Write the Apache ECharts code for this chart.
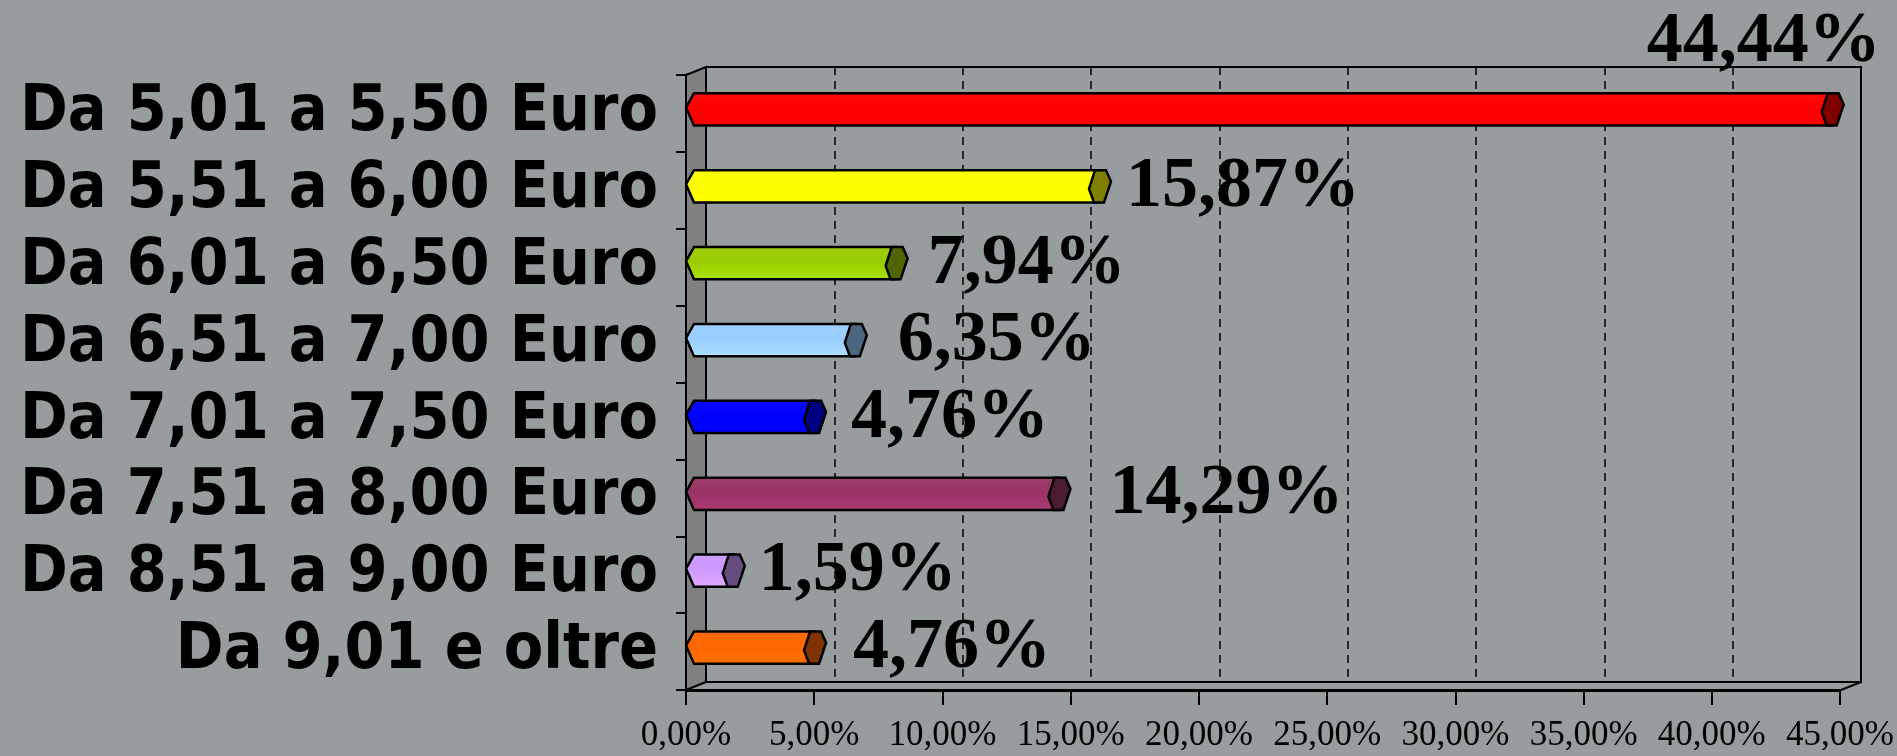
<!DOCTYPE html>
<html>
<head>
<meta charset="utf-8">
<script src="https://cdn.jsdelivr.net/npm/echarts@6/dist/echarts.min.js"></script>
<style>
  html, body { margin: 0; padding: 0; background: #979d9e; }
  #chart { width: 1897px; height: 756px; }
</style>
</head>
<body>
<div id="chart"></div>
<script>
var categories = [
  'Da 5,01 a 5,50 Euro',
  'Da 5,51 a 6,00 Euro',
  'Da 6,01 a 6,50 Euro',
  'Da 6,51 a 7,00 Euro',
  'Da 7,01 a 7,50 Euro',
  'Da 7,51 a 8,00 Euro',
  'Da 8,51 a 9,00 Euro',
  'Da 9,01 e oltre'
]
var percentages = [44.44, 15.87, 7.94, 6.35, 4.76, 14.29, 1.59, 4.76]
var tickLabels = ['0,00%', '5,00%', '10,00%', '15,00%', '20,00%', '25,00%', '30,00%', '35,00%', '40,00%', '45,00%']

// colori del corpo e del tappo di ogni barra
var barColors = ['#ff0000', '#ffff00', '#99cc00', '#99ccff', '#0000ff', '#993366', '#cc99ff', '#ff6600']
var capColors = ['#800000', '#808000', '#4d6600', '#4d6680', '#000080', '#4d1a33', '#664d80', '#803300']
// piccoli spostamenti orizzontali delle etichette (px)
var labelShift = [0, -5, 0, 11, 5, 19, -6, 7]

// piano frontale e parete di fondo (effetto 3D)
var front = { l: 686, t: 75, r: 1841, b: 690 }
var back = { l: 706, t: 67, r: 1861, b: 682 }

var myChart = echarts.init(document.getElementById('chart'))

function pct (v) {
  return v.toFixed(2).replace('.', ',') + '%'
}

function renderCylinder (params, api) {
  var idx = api.value(0)
  var v = api.value(1)
  var p0 = api.coord([0, idx])
  var p1 = api.coord([v, idx])
  var h = api.size([0, 1])[1] * 0.42
  var cy = p0[1] - 4
  var top = cy - h / 2
  var bot = cy + h / 2
  var xs = p0[0]
  var xe = p1[0] + 7
  var c = barColors[params.dataIndex]
  return {
    type: 'group',
    children: [
      {
        type: 'polygon',
        shape: { points: [[xs, cy - 2], [xs + 8, top], [xe, top], [xe, bot], [xs + 8, bot]] },
        style: {
          fill: new echarts.graphic.LinearGradient(0, 0, 0, 1, [
            { offset: 0, color: echarts.color.lift(c, 0.05) },
            { offset: 0.45, color: c },
            { offset: 1, color: echarts.color.lift(c, -0.12) }
          ]),
          stroke: '#000',
          lineWidth: 2.5
        }
      },
      {
        type: 'polygon',
        shape: {
          points: [
            [xe - 11, top + h * 0.58], [xe - 5, top], [xe + 6, top],
            [xe + 11, top + h * 0.35], [xe + 4, bot], [xe - 6, bot]
          ]
        },
        style: { fill: capColors[params.dataIndex], stroke: '#000', lineWidth: 2.5 }
      }
    ]
  }
}

var labelData = percentages.map(function (v, i) {
  var item = { value: v, label: { offset: [labelShift[i], -3] } }
  if (i === 0) {
    item.label = { offset: [-217, -71] }
  }
  return item
})

myChart.setOption({
  backgroundColor: '#979d9e',
  animation: false,
  grid: [
    { left: front.l, top: front.t, right: 1897 - front.r, bottom: 756 - front.b },
    {
      left: back.l, top: back.t, right: 1897 - back.r, bottom: 756 - back.b,
      show: true, borderColor: '#000', borderWidth: 2, backgroundColor: 'transparent'
    }
  ],
  xAxis: [
    {
      type: 'value',
      gridIndex: 0,
      min: 0,
      max: 45,
      interval: 5,
      axisLine: { show: true, lineStyle: { color: '#000', width: 3 } },
      axisTick: { show: true, length: 15, lineStyle: { color: '#000', width: 2 } },
      splitLine: { show: false },
      axisLabel: {
        margin: 28,
        color: '#000',
        fontFamily: 'Liberation Serif',
        fontSize: 35,
        formatter: function (v) { return tickLabels[Math.round(v / 5)] }
      }
    },
    {
      type: 'value',
      gridIndex: 1,
      min: 0,
      max: 45,
      interval: 5,
      axisLine: { show: false },
      axisTick: { show: false },
      axisLabel: { show: false },
      splitLine: { show: true, lineStyle: { color: '#000', width: 1.5, type: [8, 6] } }
    }
  ],
  yAxis: [
    {
      type: 'category',
      gridIndex: 0,
      inverse: true,
      data: categories,
      axisLine: { show: true, lineStyle: { color: '#000', width: 3 } },
      axisTick: { show: true, length: 10, lineStyle: { color: '#000', width: 2 } },
      axisLabel: {
        interval: 0,
        margin: 28,
        color: '#000',
        fontFamily: '"DejaVu Sans Condensed", "DejaVu Sans", sans-serif',
        fontWeight: 'bold',
        fontSize: 64
      }
    },
    {
      type: 'category',
      gridIndex: 1,
      inverse: true,
      data: categories,
      show: false
    }
  ],
  graphic: [
    {
      type: 'polygon',
      z: 1,
      shape: { points: [[front.l, front.t], [back.l, back.t], [back.l, back.b], [front.l, front.b]] },
      style: { fill: '#808080', stroke: '#000', lineWidth: 2 }
    },
    {
      type: 'polyline',
      z: 1,
      shape: { points: [[front.r, front.b], [back.r, back.b]] },
      style: { stroke: '#000', lineWidth: 2 }
    }
  ],
  series: [
    {
      type: 'custom',
      xAxisIndex: 0,
      yAxisIndex: 0,
      z: 10,
      renderItem: renderCylinder,
      data: percentages.map(function (v, i) { return [i, v] }),
      encode: { x: 1, y: 0 }
    },
    {
      type: 'bar',
      xAxisIndex: 0,
      yAxisIndex: 0,
      silent: true,
      z: 11,
      barWidth: 10,
      itemStyle: { color: 'rgba(0,0,0,0)' },
      label: {
        show: true,
        position: 'right',
        distance: 38,
        color: '#000',
        fontFamily: 'Liberation Serif',
        fontWeight: 'bold',
        fontSize: 72,
        formatter: function (p) { return pct(p.value) }
      },
      data: labelData
    }
  ]
})
</script>
</body>
</html>
